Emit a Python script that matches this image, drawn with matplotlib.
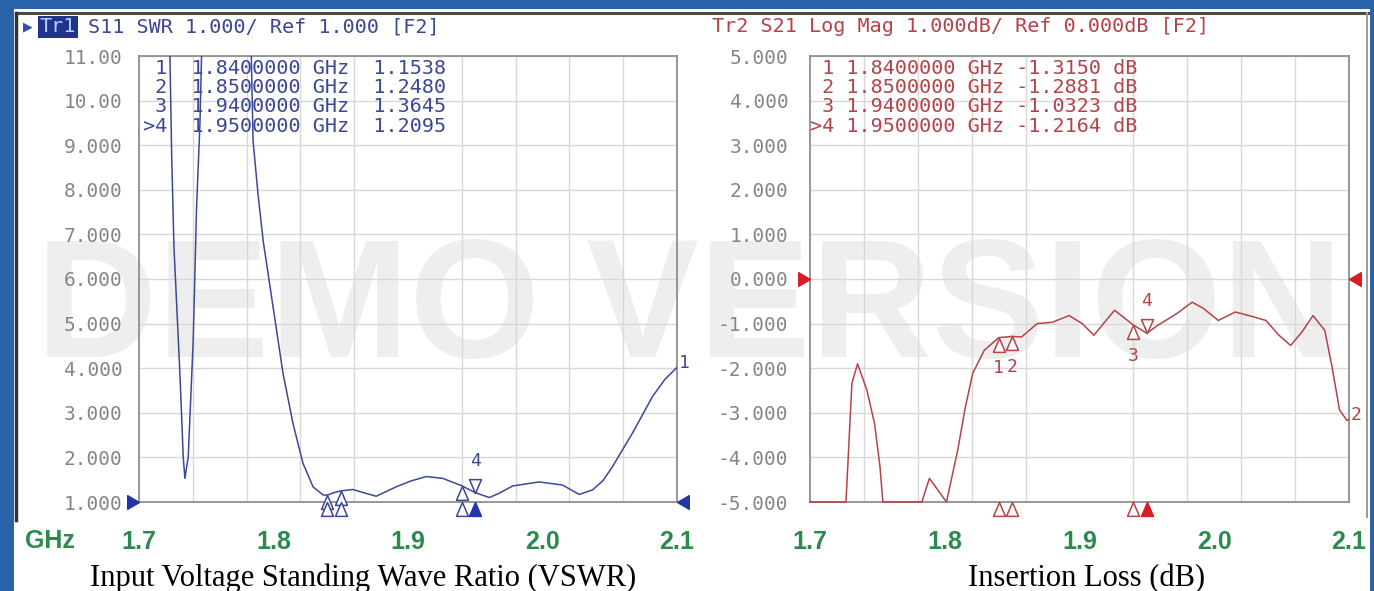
#!/usr/bin/env python3
"""
Two-panel VNA screenshot: S11 VSWR (left) and S21 insertion loss (right).
"""

import matplotlib.pyplot as plt
from matplotlib.path import Path
from matplotlib.lines import Line2D
from matplotlib.patches import Rectangle

W, H = 1374, 591

# S11 trace, SWR (values above 11 are off screen)
vswr_freq = [1.7000, 1.7195, 1.7230, 1.7243, 1.7260, 1.7304, 1.7329, 1.7341,
             1.7366, 1.7403, 1.7428, 1.7453, 1.7465, 1.7500, 1.7780, 1.7835,
             1.7848, 1.7885, 1.7923, 1.7997, 1.8071, 1.8145, 1.8219, 1.8294,
             1.8368, 1.8400, 1.8450, 1.8500, 1.8590, 1.8680, 1.8764, 1.8912,
             1.9020, 1.9135, 1.9258, 1.9400, 1.9500, 1.9605, 1.9680, 1.9778,
             1.9976, 2.0149, 2.0273, 2.0371, 2.0450, 2.0520, 2.0668, 2.0817,
             2.0910, 2.1000]
vswr_val = [15.0, 14.5, 11.0, 8.76, 6.71, 3.89, 2.01, 1.53,
            2.01, 4.62, 7.61, 9.47, 11.0, 15.0, 15.0, 11.0,
            9.10, 7.90, 6.86, 5.37, 3.88, 2.76, 1.87, 1.34,
            1.16, 1.1538, 1.21, 1.2480, 1.28, 1.20, 1.13, 1.34,
            1.47, 1.57, 1.53, 1.3645, 1.2095, 1.10, 1.20, 1.36,
            1.45, 1.38, 1.17, 1.27, 1.48, 1.79, 2.54, 3.36,
            3.75, 4.02]

# S21 trace, log mag in dB (screen bottom is -5 dB)
s21_freq = [1.7000, 1.7267, 1.7311, 1.7353, 1.7422, 1.7479, 1.7519, 1.7541,
            1.7830, 1.7886, 1.8013, 1.8096, 1.8153, 1.8208, 1.8293, 1.8400,
            1.8500, 1.8570, 1.8686, 1.8798, 1.8924, 1.9020, 1.9107, 1.9260,
            1.9400, 1.9500, 1.9580, 1.9720, 1.9836, 1.9920, 2.0030, 2.0156,
            2.0257, 2.0384, 2.0480, 2.0567, 2.0650, 2.0733, 2.0820, 2.0874,
            2.0930, 2.0985, 2.1000]
s21_val = [-5.0, -5.0, -2.34, -1.90, -2.49, -3.24, -4.20, -5.0,
           -5.0, -4.47, -5.0, -3.84, -2.87, -2.11, -1.60, -1.3150,
           -1.2881, -1.30, -1.00, -0.97, -0.82, -1.00, -1.26, -0.70,
           -1.0323, -1.2164, -1.04, -0.78, -0.52, -0.66, -0.93, -0.74,
           -0.82, -0.93, -1.26, -1.49, -1.19, -0.82, -1.15, -1.97,
           -2.94, -3.17, -3.15]

marker_names = ["1", "2", "3", ">4"]
marker_freq = [1.84, 1.85, 1.94, 1.95]
vswr_marker_val = [1.1538, 1.2480, 1.3645, 1.2095]
s21_marker_val = [-1.3150, -1.2881, -1.0323, -1.2164]

freq_ticks = [1.7, 1.8, 1.9, 2.0, 2.1]
grid_freq = [1.7 + 0.04 * i for i in range(11)]
vswr_ticks = list(range(1, 12))
vswr_ticklabels = ["1.000", "2.000", "3.000", "4.000", "5.000", "6.000",
                   "7.000", "8.000", "9.000", "10.00", "11.00"]
s21_ticks = list(range(-5, 6))
s21_ticklabels = ["-5.000", "-4.000", "-3.000", "-2.000", "-1.000", "0.000",
                  "1.000", "2.000", "3.000", "4.000", "5.000"]

MONO = "DejaVu Sans Mono"
NAVY = "#3c4896"
NAVY_FILL = "#2336a8"
RED = "#b4434a"
RED_FILL = "#d81e22"
GREEN = "#2d8a4e"

# triangle markers with the tip on the data point
TRI_UP = Path([(0, 0), (-0.43, -1), (0.43, -1), (0, 0)],
              [Path.MOVETO, Path.LINETO, Path.LINETO, Path.CLOSEPOLY])
TRI_DOWN = Path([(0, 0), (-0.43, 1), (0.43, 1), (0, 0)],
                [Path.MOVETO, Path.LINETO, Path.LINETO, Path.CLOSEPOLY])
TRI_RIGHT = Path([(0, 0), (-1, 0.58), (-1, -0.58), (0, 0)],
                 [Path.MOVETO, Path.LINETO, Path.LINETO, Path.CLOSEPOLY])
TRI_LEFT = Path([(0, 0), (1, 0.58), (1, -0.58), (0, 0)],
                [Path.MOVETO, Path.LINETO, Path.LINETO, Path.CLOSEPOLY])


def fx(x):
    return x / W


def fy(y):
    return 1 - y / H


def style_axes(ax, yticks, ylabels, ylim, ypad):
    ax.set_facecolor("none")
    ax.set_zorder(1)
    ax.set_xlim(1.7, 2.1)
    ax.set_ylim(*ylim)
    ax.set_xticks(freq_ticks)
    ax.set_xticklabels([f"{t:.1f}" for t in freq_ticks])
    ax.set_xticks(grid_freq, minor=True)
    ax.set_yticks(yticks)
    ax.set_yticklabels(ylabels)
    ax.grid(which="minor", axis="x", color="#d8d8d8", lw=1.0)
    ax.grid(which="major", axis="y", color="#d8d8d8", lw=1.0)
    ax.tick_params(axis="x", which="both", length=0, pad=20,
                   labelsize=18, labelcolor=GREEN)
    ax.tick_params(axis="y", length=0, pad=ypad, labelsize=14,
                   labelcolor="#858585")
    for lab in ax.get_xticklabels():
        lab.set_family("Liberation Sans")
        lab.set_fontweight("bold")
    for lab in ax.get_yticklabels():
        lab.set_family(MONO)
    for sp in ax.spines.values():
        sp.set_color("#8f8f8f")
        sp.set_linewidth(1.3)


def draw_markers(ax, vals, color, fill, label_below):
    ybot = ax.get_ylim()[0]
    for i, (f, v) in enumerate(zip(marker_freq, vals)):
        active = marker_names[i].startswith(">")
        name = marker_names[i].lstrip(">")
        # marker on the trace
        path = TRI_DOWN if active else TRI_UP
        ax.plot(f, v, marker=path, ms=20, mfc="white", mec=color, mew=1.1,
                clip_on=False, zorder=5)
        if active:
            ax.annotate(name, (f, v), xytext=(0, 23), textcoords="offset points",
                        ha="center", va="center", family=MONO, fontsize=13,
                        color=color, annotation_clip=False)
        elif label_below:
            ax.annotate(name, (f, v), xytext=(0, -22), textcoords="offset points",
                        ha="center", va="center", family=MONO, fontsize=13,
                        color=color, annotation_clip=False)
        # marker position on the frequency axis
        ax.plot(f, ybot, marker=TRI_UP, ms=20, mfc=fill if active else "white",
                mec=fill if active else color, mew=1.1, clip_on=False, zorder=5)


def draw_ref_arrows(ax, yref, fill):
    ax.plot(1.7, yref, marker=TRI_RIGHT, ms=17, mfc=fill, mec=fill,
            clip_on=False, zorder=6)
    ax.plot(2.1, yref, marker=TRI_LEFT, ms=17, mfc=fill, mec=fill,
            clip_on=False, zorder=6)


def main():
    fig = plt.figure(figsize=(W / 100, H / 100), dpi=100)
    fig.patch.set_facecolor("#2a63a9")
    fig.add_artist(Rectangle((fx(14), 0), fx(1370) - fx(14), fy(9),
                             transform=fig.transFigure, fc="white", ec="none",
                             zorder=0))
    # instrument screen frame
    fig.add_artist(Line2D([fx(16), fx(1368)], [fy(13), fy(13)],
                          transform=fig.transFigure, color="#4a4a4a", lw=2.2, zorder=0.6))
    fig.add_artist(Line2D([fx(16), fx(16)], [fy(13), fy(520)],
                          transform=fig.transFigure, color="#333333", lw=2.5, zorder=0.6))
    fig.add_artist(Line2D([fx(1367), fx(1367)], [fy(13), fy(517)],
                          transform=fig.transFigure, color="#9a9a9a", lw=1.5, zorder=0.6))

    # watermark behind the grids
    fig.text(fx(690), fy(357), "DEMO VERSION", family="Liberation Sans",
             fontweight="bold", fontsize=121, color="#eeeeee", ha="center",
             va="baseline", zorder=0.5)

    ax1 = fig.add_axes([fx(139), fy(502), (677 - 139) / W, 446 / H])
    ax2 = fig.add_axes([fx(810), fy(502), (1349 - 810) / W, 446 / H])
    style_axes(ax1, vswr_ticks, vswr_ticklabels, (1, 11), 12)
    style_axes(ax2, s21_ticks, s21_ticklabels, (-5, 5), 15.5)

    ax1.plot(vswr_freq, vswr_val, color=NAVY, lw=1.1, zorder=4)
    ax2.plot(s21_freq, s21_val, color=RED, lw=1.1, zorder=4, clip_on=False)

    draw_markers(ax1, vswr_marker_val, NAVY, NAVY_FILL, label_below=False)
    draw_markers(ax2, s21_marker_val, RED, RED_FILL, label_below=True)
    draw_ref_arrows(ax1, 1.0, NAVY_FILL)
    draw_ref_arrows(ax2, 0.0, RED_FILL)

    ax1.annotate("1", (vswr_freq[-1], vswr_val[-1]), xytext=(1, 3),
                 textcoords="offset points", family=MONO, fontsize=13,
                 color=NAVY, va="center", annotation_clip=False)
    ax2.annotate("2", (s21_freq[-1], s21_val[-1]), xytext=(1, 3),
                 textcoords="offset points", family=MONO, fontsize=13,
                 color=RED, va="center", annotation_clip=False)

    # trace headers
    pitch = 12.1
    fig.text(fx(28), fy(27), "\u25b6", family="DejaVu Sans", fontsize=9,
             color="#2f4fb0", ha="center", va="center")
    fig.text(fx(40), fy(27), "Tr1", family=MONO, fontsize=14.5, color="#a8d4ff",
             ha="left", va="center",
             bbox=dict(boxstyle="square,pad=0.08", fc="#22338c", ec="none"))
    fig.text(fx(40 + 4 * pitch), fy(27), "S11 SWR 1.000/ Ref 1.000 [F2]",
             family=MONO, fontsize=14.5, color=NAVY, ha="left", va="center")
    fig.text(fx(712), fy(27), "Tr2 S21 Log Mag 1.000dB/ Ref 0.000dB [F2]",
             family=MONO, fontsize=14.5, color=RED, ha="left", va="center")

    # marker tables
    row_y = [68, 87.5, 107, 126.5]
    for i, name in enumerate(marker_names):
        fig.text(fx(143), fy(row_y[i]),
                 f"{name:>2}  {marker_freq[i]:.7f} GHz  {vswr_marker_val[i]:.4f}",
                 family=MONO, fontsize=14.5, color=NAVY, ha="left", va="center",
                 zorder=5)
        fig.text(fx(810), fy(row_y[i]),
                 f"{name:>2} {marker_freq[i]:.7f} GHz {s21_marker_val[i]:.4f} dB",
                 family=MONO, fontsize=14.5, color=RED, ha="left", va="center",
                 zorder=5)

    fig.text(fx(50), fy(548), "GHz", family="Liberation Sans", fontweight="bold",
             fontsize=18, color=GREEN, ha="center", va="baseline")

    fig.text(fx(363), fy(586), "Input Voltage Standing Wave Ratio (VSWR)",
             family="Liberation Serif", fontsize=22, ha="center", va="baseline")
    fig.text(fx(1087), fy(586), "Insertion Loss (dB)",
             family="Liberation Serif", fontsize=22, ha="center", va="baseline")

    fig.savefig("out.png", dpi=100)
    plt.close(fig)


if __name__ == "__main__":
    main()
